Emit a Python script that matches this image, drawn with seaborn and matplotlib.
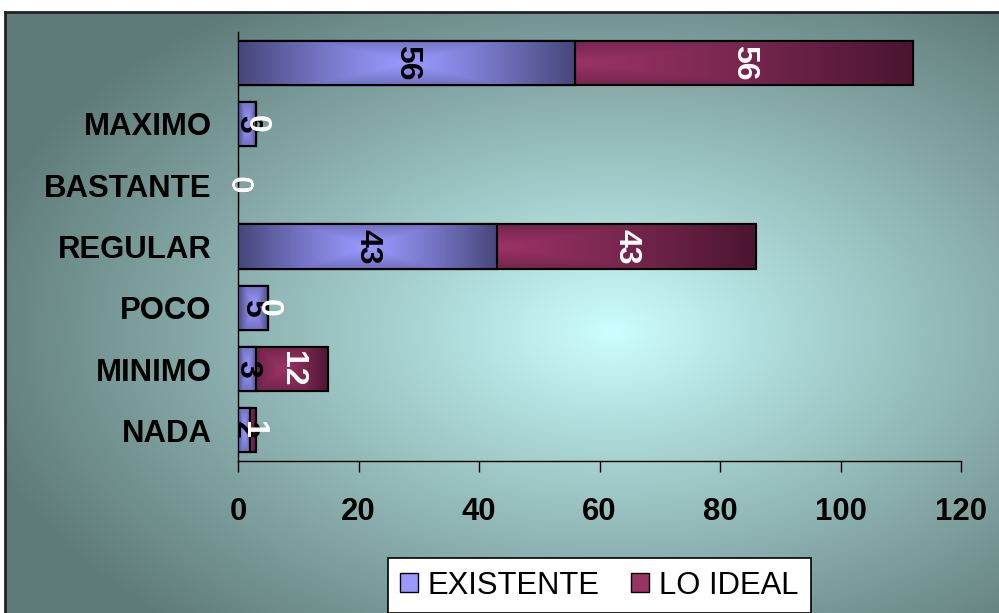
import numpy as np
import pandas as pd
import matplotlib
matplotlib.use("Agg")
import matplotlib.pyplot as plt
from matplotlib.patches import Patch, Rectangle
from matplotlib.colors import to_rgb
import seaborn as sns

categories = ["", "MAXIMO", "BASTANTE", "REGULAR", "POCO", "MINIMO", "NADA"]
existente = [56, 3, 0, 43, 5, 3, 2]
lo_ideal = [56, 0, 0, 43, 0, 12, 1]
x_ticks = [0, 20, 40, 60, 80, 100, 120]
series_names = ["EXISTENTE", "LO IDEAL"]

df = pd.DataFrame({"cat": categories, "EXISTENTE": existente, "LO IDEAL": lo_ideal})
df["TOTAL"] = df["EXISTENTE"] + df["LO IDEAL"]

sns.set_style("white")
plt.rcParams["font.family"] = ["Liberation Sans", "DejaVu Sans"]
plt.rcParams["text.color"] = "black"
plt.rcParams["xtick.color"] = "black"
plt.rcParams["ytick.color"] = "black"
plt.rcParams["axes.labelcolor"] = "black"

W, H = 999, 613
fig = plt.figure(figsize=(W / 100, H / 100), dpi=100)
fig.patch.set_facecolor("white")

# background panel with radial gradient
bg = fig.add_axes([5 / W, 0, (W - 5) / W, (H - 12) / H])
ny, nx = 300, 500
yy, xx = np.mgrid[0:ny, 0:nx]
cx, cy = 0.61 * nx, 0.53 * ny
u = (xx - cx) / (nx * 0.66)
v = (yy - cy) / (ny * 0.66)
t = np.clip(np.sqrt(u ** 2 + v ** 2), 0, 1) ** 0.95
c_center = np.array(to_rgb("#ccffff"))
c_edge = np.array(to_rgb("#5f7b79"))
img = c_center[None, None, :] * (1 - t[..., None]) + c_edge[None, None, :] * t[..., None]
bg.imshow(img, aspect="auto", extent=(0, 1, 0, 1), origin="upper")
bg.set_xlim(0, 1)
bg.set_ylim(0, 1)
bg.set_xticks([])
bg.set_yticks([])
for s in ["right", "bottom"]:
    bg.spines[s].set_visible(False)
for s in ["top", "left"]:
    bg.spines[s].set_color("#222222")
    bg.spines[s].set_linewidth(2)

ax = fig.add_axes([238 / W, (H - 461) / H, (961 - 238) / W, (461 - 32) / H])
ax.patch.set_alpha(0)

col_exist = "#9999ff"
col_ideal = "#993366"

sns.barplot(data=df, x="TOTAL", y="cat", order=categories, color=col_ideal,
            orient="h", width=0.72, edgecolor="black", linewidth=1.5, ax=ax,
            saturation=1)
n_tot = len(ax.patches)
sns.barplot(data=df, x="EXISTENTE", y="cat", order=categories, color=col_exist,
            orient="h", width=0.72, edgecolor="black", linewidth=1.5, ax=ax,
            saturation=1)

def shade(patch, base, dark):
    b = patch.get_bbox()
    if b.width <= 0:
        patch.set_facecolor("none")
        return
    gy, gx = np.mgrid[-1:1:60j, -1:1:200j]
    tt = np.clip(np.maximum(np.abs(gx), np.abs(gy) * 0.55), 0, 1) ** 1.2
    c1 = np.array(to_rgb(base)); c2 = np.array(to_rgb(dark))
    im = c1[None, None, :] * (1 - tt[..., None]) + c2[None, None, :] * tt[..., None]
    zo = patch.get_zorder()
    art = ax.imshow(im, extent=(b.x0, b.x1, b.y1, b.y0), aspect="auto",
                    zorder=zo + 0.01, interpolation="bilinear")
    art.set_clip_path(patch)
    edge = Rectangle((b.x0, b.y0), b.width, b.height, fill=False,
                     edgecolor="black", linewidth=1.5, zorder=zo + 0.02)
    ax.add_patch(edge)

for i, p in enumerate(list(ax.patches)):
    if i < n_tot:
        p.set_zorder(2)
        shade(p, col_ideal, "#4a1530")
    else:
        p.set_zorder(3)
        shade(p, col_exist, "#46467a")

# value labels
for i, (e, li) in enumerate(zip(existente, lo_ideal)):
    ax.text(e / 2, i, str(e), rotation=-90, ha="center", va="center",
            fontsize=23, fontweight="bold", color="black", zorder=10)
for i, (e, li) in enumerate(zip(existente, lo_ideal)):
    ax.text(e + li / 2, i, str(li), rotation=-90, ha="center", va="center",
            fontsize=23, fontweight="bold", color="white", zorder=11)

ax.set_xlim(0, 120)
ax.set_ylim(len(categories) - 0.5, -0.5)
ax.set_xticks(x_ticks)
ax.set_xticklabels([str(v) for v in x_ticks], fontsize=22.4, fontweight="bold")
ax.set_yticks(range(len(categories)))
ax.set_yticklabels(categories, fontsize=22.4, fontweight="bold")
ax.tick_params(axis="x", length=8, width=1, color="black", direction="out", pad=18, bottom=True)
ax.tick_params(axis="y", length=0, pad=19)
ax.set_xlabel("")
ax.set_ylabel("")
for s in ["top", "right"]:
    ax.spines[s].set_visible(False)
for s in ["left", "bottom"]:
    ax.spines[s].set_color("black")
    ax.spines[s].set_linewidth(1)

handles = [Patch(facecolor=col_exist, edgecolor="black", linewidth=1),
           Patch(facecolor=col_ideal, edgecolor="black", linewidth=1)]
leg = fig.legend(handles, series_names, loc="center", bbox_to_anchor=(599 / W, 1 - 585.5 / H),
                 ncol=2, fontsize=22.3, frameon=True, fancybox=False, edgecolor="black",
                 framealpha=1, handlelength=0.6, handleheight=0.6, handletextpad=0.3,
                 columnspacing=1.0, borderpad=0.4, borderaxespad=0)
leg.get_frame().set_linewidth(1.2)

fig.savefig("out.png", dpi=100)
